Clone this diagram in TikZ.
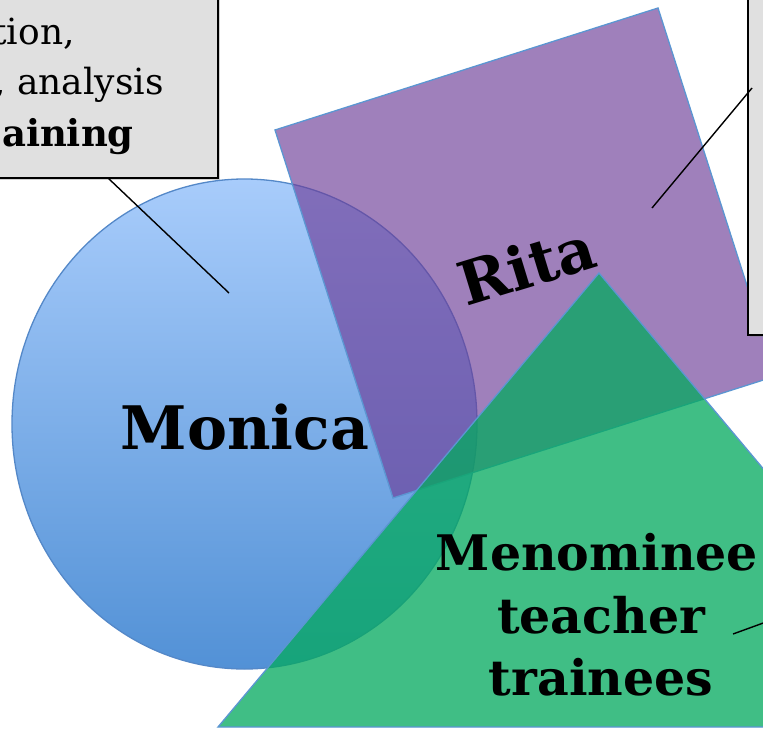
\documentclass[tikz,border=0pt]{standalone}
\usepackage{fontspec}
\setmainfont{DejaVu Serif}
\usetikzlibrary{shadows}
\definecolor{boxgray}{RGB}{224,224,224}
\definecolor{edgeblue}{RGB}{91,150,210}
\definecolor{circedge}{RGB}{84,136,200}
\definecolor{circtop}{RGB}{168,204,251}
\definecolor{circbot}{RGB}{82,145,214}
\definecolor{purp}{RGB}{109,60,152}
\definecolor{grn}{RGB}{5,170,95}
\tikzset{
  callout/.style={draw=black, line width=1.6pt, fill=boxgray, inner sep=0pt,
    drop shadow={opacity=0.35, shadow xshift=2pt, shadow yshift=-2pt}},
  leader/.style={draw=black, line width=1.4pt},
  shapeedge/.style={draw=edgeblue, line width=1.3pt},
  bigname/.style={font=\bfseries\fontsize{60}{70}\selectfont, inner sep=0pt},
  midname/.style={font=\bfseries\fontsize{49}{60}\selectfont, inner sep=0pt, anchor=base},
  boxtext/.style={font=\fontsize{36}{44}\selectfont, inner sep=0pt, anchor=base east},
  boxbold/.style={font=\bfseries\fontsize{37}{44}\selectfont, inner sep=0pt, anchor=base east}
}
\begin{document}
\begin{tikzpicture}[x=1pt,y=-1pt]
\path[use as bounding box] (0,0) rectangle (763,730);
\clip (0,0) rectangle (763,730);
\fill[white] (0,0) rectangle (763,730);
% shapes
\draw[draw=circedge, line width=1.3pt, top color=circtop, bottom color=circbot] (244.5,424) ellipse (232.5 and 245);
\draw[shapeedge, fill=purp, fill opacity=0.65] (275,130) -- (658,8) -- (776,376) -- (393,498) -- cycle;
\draw[shapeedge, fill=grn, fill opacity=0.76] (599,273) -- (980,727) -- (218,727) -- cycle;
% callout boxes
\node[callout, minimum width=318pt, minimum height=198pt] (boxL) at (59,79) {};
\node[callout, minimum width=152pt, minimum height=355pt] (boxR) at (824,157.5) {};
\node[boxtext] (t1) at (75,45) {tion,};
\node[boxtext] (t2) at (164,95) {, analysis};
\node[boxbold] (t3) at (134,147) {aining};
% leaders
\coordinate (lA) at (108,178);
\coordinate (lB) at (229,293);
\coordinate (rA) at (752,88);
\coordinate (rB) at (652,208);
\coordinate (gA) at (733,634);
\coordinate (gB) at (766,622);
\draw[leader] (lA) -- (lB);
\draw[leader] (rA) -- (rB);
\draw[leader] (gA) -- (gB);
% names
\node[bigname, anchor=base] (monica) at (245,449) {Monica};
\node[bigname, rotate=17] (rita) at (527,265) {Rita};
\node[midname] (m1) at (597,570) {Menominee};
\node[midname] (m2) at (601,633) {teacher};
\node[midname] (m3) at (601,695) {trainees};
\end{tikzpicture}
\end{document}
